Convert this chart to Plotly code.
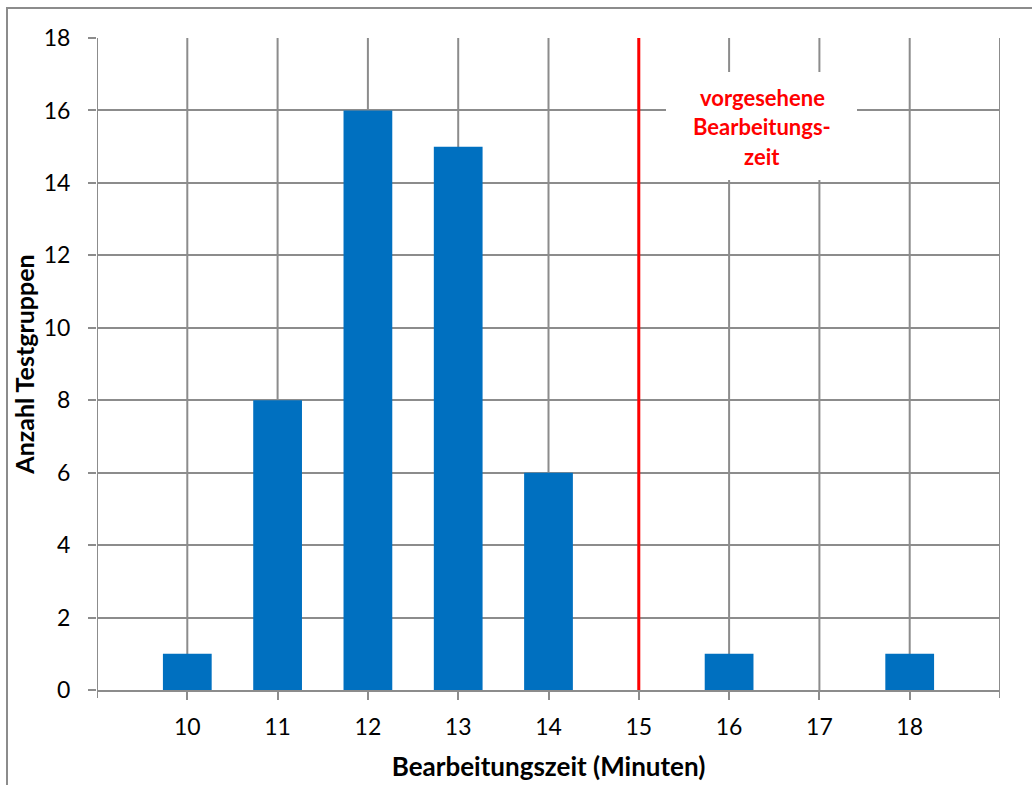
import plotly.graph_objects as go

# Bearbeitungszeit in Minuten und Anzahl Testgruppen je Zeit
minutes = [10, 11, 12, 13, 14, 16, 18]
groups = [1, 8, 16, 15, 6, 1, 1]
x_ticks = [10, 11, 12, 13, 14, 15, 16, 17, 18]
y_ticks = [0, 2, 4, 6, 8, 10, 12, 14, 16, 18]
planned_time = 15
note_lines = ["vorgesehene", "Bearbeitungs-", "zeit"]

FONT = "Lato"
GRID = "#8c8c8c"

fig = go.Figure()
fig.add_trace(go.Bar(
    x=minutes, y=groups, width=0.54,
    marker=dict(color="#0070C0", line=dict(width=0)),
    hoverinfo="x+y",
))

# vorgesehene Bearbeitungszeit als rote Linie
fig.add_trace(go.Scatter(
    x=[planned_time, planned_time], y=[0, 18], mode="lines",
    line=dict(color="#ff0000", width=3), hoverinfo="skip",
))

fig.update_layout(
    width=1032, height=785,
    margin=dict(l=97, r=32, t=38, b=95),
    paper_bgcolor="white", plot_bgcolor="white",
    showlegend=False,
    font=dict(family=FONT, size=23, color="#000000"),
    xaxis=dict(
        range=[9, 19], tickmode="array", tickvals=x_ticks,
        ticktext=[str(v) for v in x_ticks],
        showgrid=False, zeroline=False,
        showline=True, linecolor=GRID, linewidth=2,
        ticks="outside", ticklen=8, tickcolor=GRID, tickwidth=2,
        ticklabelstandoff=7,
        tickfont=dict(family=FONT, size=23),
        title=dict(text="<b>Bearbeitungszeit (Minuten)</b>",
                   font=dict(family=FONT, size=26), standoff=19),
        automargin=False,
        fixedrange=True,
    ),
    yaxis=dict(
        range=[0, 18], tickmode="array", tickvals=y_ticks,
        showgrid=True, gridcolor=GRID, gridwidth=2, zeroline=False,
        showline=False,
        ticks="outside", ticklen=8, tickcolor=GRID, tickwidth=2,
        ticklabelstandoff=13,
        tickfont=dict(family=FONT, size=23),
        title=dict(text="<b>Anzahl Testgruppen</b>",
                   font=dict(family=FONT, size=25), standoff=1),
        automargin=False,
        fixedrange=True,
    ),
)

# vertikale Gitterlinien bei jeder Minute inkl. Rand
for v in range(9, 20):
    fig.add_shape(type="line", xref="x", yref="y", x0=v, x1=v, y0=0, y1=18,
                  line=dict(color=GRID, width=2), layer="below")

# extra ticks at the axis ends
for v in (9, 19):
    fig.add_shape(type="line", xref="x", yref="paper", x0=v, x1=v,
                  y0=0, y1=-8 / 652, line=dict(color=GRID, width=2), layer="above")

# weißer Hintergrund der Beschriftung
fig.add_shape(type="rect", xref="x", yref="y",
              x0=9 + (666 - 97) / 90.3, x1=9 + (857 - 97) / 90.3,
              y0=18 * (690 - 180) / 652, y1=18 * (690 - 72) / 652,
              fillcolor="white", line=dict(width=0), layer="above")

for i, txt in enumerate(note_lines):
    fig.add_annotation(
        x=9 + (762 - 97) / 90.3, xref="x",
        y=18 * (690 - (97 + 29.5 * i)) / 652, yref="y",
        text=f"<b>{txt}</b>", showarrow=False,
        font=dict(family=FONT, size=22, color="#ff0000"),
        xanchor="center", yanchor="middle",
    )

# Rahmen um das gesamte Diagramm
fig.add_shape(type="rect", xref="paper", yref="paper",
              x0=-90 / 903, x1=1040 / 903 - 97 / 903,
              y0=-200 / 652, y1=1 + 30 / 652,
              line=dict(color="#8c8c8c", width=2), layer="above")

fig.write_html("out.html")
